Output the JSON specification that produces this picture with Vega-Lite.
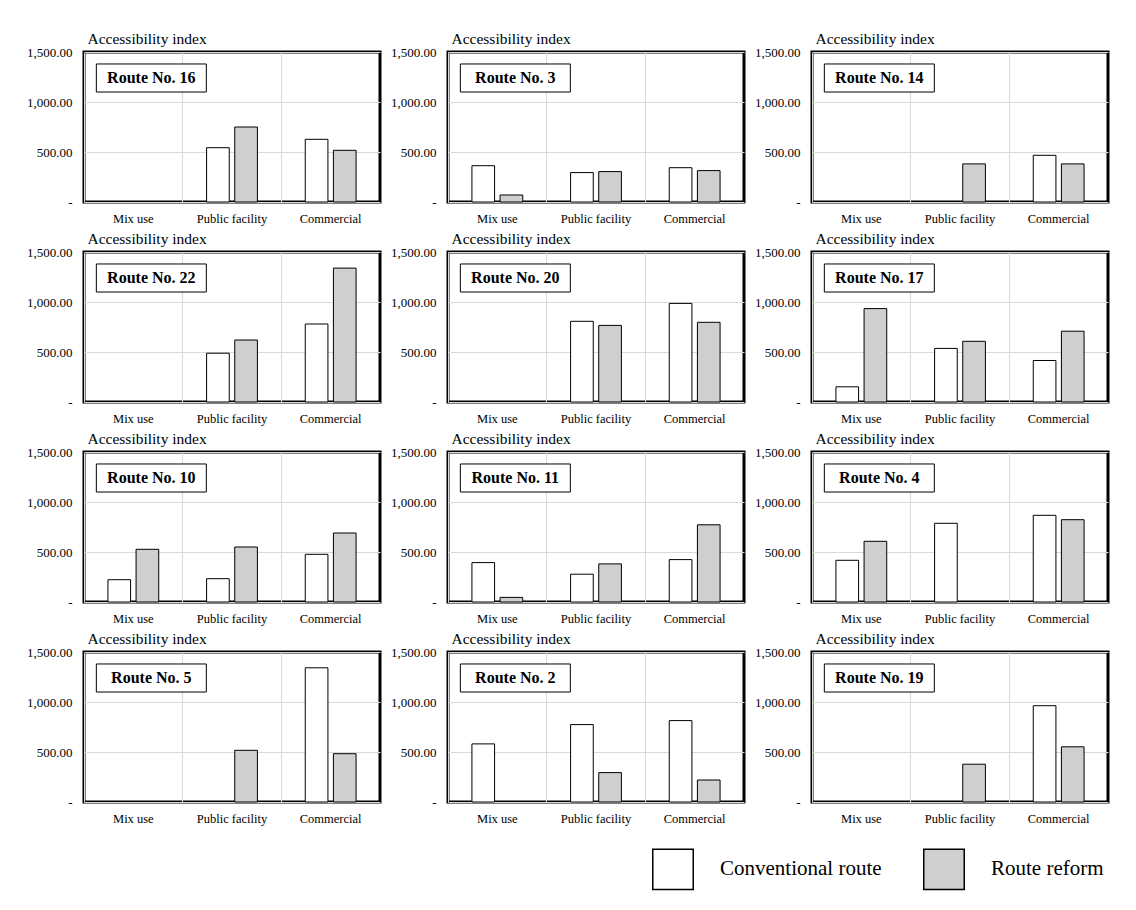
{
  "$schema": "https://vega.github.io/schema/vega-lite/v6.json",
  "background": "white",
  "padding": {"left": 25, "top": 29, "right": 5, "bottom": 5},
  "data": {
    "values": [
      {"route": "Route No. 16", "landuse": "Mix use", "type": "Conventional route", "value": 0},
      {"route": "Route No. 16", "landuse": "Mix use", "type": "Route reform", "value": 0},
      {"route": "Route No. 16", "landuse": "Public facility", "type": "Conventional route", "value": 543},
      {"route": "Route No. 16", "landuse": "Public facility", "type": "Route reform", "value": 750},
      {"route": "Route No. 16", "landuse": "Commercial", "type": "Conventional route", "value": 627},
      {"route": "Route No. 16", "landuse": "Commercial", "type": "Route reform", "value": 517},

      {"route": "Route No. 3", "landuse": "Mix use", "type": "Conventional route", "value": 363},
      {"route": "Route No. 3", "landuse": "Mix use", "type": "Route reform", "value": 70},
      {"route": "Route No. 3", "landuse": "Public facility", "type": "Conventional route", "value": 294},
      {"route": "Route No. 3", "landuse": "Public facility", "type": "Route reform", "value": 304},
      {"route": "Route No. 3", "landuse": "Commercial", "type": "Conventional route", "value": 343},
      {"route": "Route No. 3", "landuse": "Commercial", "type": "Route reform", "value": 314},

      {"route": "Route No. 14", "landuse": "Mix use", "type": "Conventional route", "value": 0},
      {"route": "Route No. 14", "landuse": "Mix use", "type": "Route reform", "value": 0},
      {"route": "Route No. 14", "landuse": "Public facility", "type": "Conventional route", "value": 0},
      {"route": "Route No. 14", "landuse": "Public facility", "type": "Route reform", "value": 381},
      {"route": "Route No. 14", "landuse": "Commercial", "type": "Conventional route", "value": 467},
      {"route": "Route No. 14", "landuse": "Commercial", "type": "Route reform", "value": 381},

      {"route": "Route No. 22", "landuse": "Mix use", "type": "Conventional route", "value": 0},
      {"route": "Route No. 22", "landuse": "Mix use", "type": "Route reform", "value": 0},
      {"route": "Route No. 22", "landuse": "Public facility", "type": "Conventional route", "value": 488},
      {"route": "Route No. 22", "landuse": "Public facility", "type": "Route reform", "value": 620},
      {"route": "Route No. 22", "landuse": "Commercial", "type": "Conventional route", "value": 780},
      {"route": "Route No. 22", "landuse": "Commercial", "type": "Route reform", "value": 1339},

      {"route": "Route No. 20", "landuse": "Mix use", "type": "Conventional route", "value": 0},
      {"route": "Route No. 20", "landuse": "Mix use", "type": "Route reform", "value": 0},
      {"route": "Route No. 20", "landuse": "Public facility", "type": "Conventional route", "value": 807},
      {"route": "Route No. 20", "landuse": "Public facility", "type": "Route reform", "value": 766},
      {"route": "Route No. 20", "landuse": "Commercial", "type": "Conventional route", "value": 986},
      {"route": "Route No. 20", "landuse": "Commercial", "type": "Route reform", "value": 797},

      {"route": "Route No. 17", "landuse": "Mix use", "type": "Conventional route", "value": 152},
      {"route": "Route No. 17", "landuse": "Mix use", "type": "Route reform", "value": 934},
      {"route": "Route No. 17", "landuse": "Public facility", "type": "Conventional route", "value": 536},
      {"route": "Route No. 17", "landuse": "Public facility", "type": "Route reform", "value": 607},
      {"route": "Route No. 17", "landuse": "Commercial", "type": "Conventional route", "value": 415},
      {"route": "Route No. 17", "landuse": "Commercial", "type": "Route reform", "value": 708},

      {"route": "Route No. 10", "landuse": "Mix use", "type": "Conventional route", "value": 223},
      {"route": "Route No. 10", "landuse": "Mix use", "type": "Route reform", "value": 527},
      {"route": "Route No. 10", "landuse": "Public facility", "type": "Conventional route", "value": 233},
      {"route": "Route No. 10", "landuse": "Public facility", "type": "Route reform", "value": 550},
      {"route": "Route No. 10", "landuse": "Commercial", "type": "Conventional route", "value": 477},
      {"route": "Route No. 10", "landuse": "Commercial", "type": "Route reform", "value": 690},

      {"route": "Route No. 11", "landuse": "Mix use", "type": "Conventional route", "value": 394},
      {"route": "Route No. 11", "landuse": "Mix use", "type": "Route reform", "value": 46},
      {"route": "Route No. 11", "landuse": "Public facility", "type": "Conventional route", "value": 278},
      {"route": "Route No. 11", "landuse": "Public facility", "type": "Route reform", "value": 381},
      {"route": "Route No. 11", "landuse": "Commercial", "type": "Conventional route", "value": 424},
      {"route": "Route No. 11", "landuse": "Commercial", "type": "Route reform", "value": 772},

      {"route": "Route No. 4", "landuse": "Mix use", "type": "Conventional route", "value": 417},
      {"route": "Route No. 4", "landuse": "Mix use", "type": "Route reform", "value": 607},
      {"route": "Route No. 4", "landuse": "Public facility", "type": "Conventional route", "value": 787},
      {"route": "Route No. 4", "landuse": "Public facility", "type": "Route reform", "value": 0},
      {"route": "Route No. 4", "landuse": "Commercial", "type": "Conventional route", "value": 867},
      {"route": "Route No. 4", "landuse": "Commercial", "type": "Route reform", "value": 823},

      {"route": "Route No. 5", "landuse": "Mix use", "type": "Conventional route", "value": 0},
      {"route": "Route No. 5", "landuse": "Mix use", "type": "Route reform", "value": 0},
      {"route": "Route No. 5", "landuse": "Public facility", "type": "Conventional route", "value": 0},
      {"route": "Route No. 5", "landuse": "Public facility", "type": "Route reform", "value": 517},
      {"route": "Route No. 5", "landuse": "Commercial", "type": "Conventional route", "value": 1342},
      {"route": "Route No. 5", "landuse": "Commercial", "type": "Route reform", "value": 483},

      {"route": "Route No. 2", "landuse": "Mix use", "type": "Conventional route", "value": 581},
      {"route": "Route No. 2", "landuse": "Mix use", "type": "Route reform", "value": 0},
      {"route": "Route No. 2", "landuse": "Public facility", "type": "Conventional route", "value": 774},
      {"route": "Route No. 2", "landuse": "Public facility", "type": "Route reform", "value": 294},
      {"route": "Route No. 2", "landuse": "Commercial", "type": "Conventional route", "value": 814},
      {"route": "Route No. 2", "landuse": "Commercial", "type": "Route reform", "value": 220},

      {"route": "Route No. 19", "landuse": "Mix use", "type": "Conventional route", "value": 0},
      {"route": "Route No. 19", "landuse": "Mix use", "type": "Route reform", "value": 0},
      {"route": "Route No. 19", "landuse": "Public facility", "type": "Conventional route", "value": 0},
      {"route": "Route No. 19", "landuse": "Public facility", "type": "Route reform", "value": 378},
      {"route": "Route No. 19", "landuse": "Commercial", "type": "Conventional route", "value": 963},
      {"route": "Route No. 19", "landuse": "Commercial", "type": "Route reform", "value": 552}
    ]
  },
  "facet": {
    "field": "route",
    "type": "nominal",
    "title": null,
    "sort": ["Route No. 16", "Route No. 3", "Route No. 14", "Route No. 22", "Route No. 20", "Route No. 17", "Route No. 10", "Route No. 11", "Route No. 4", "Route No. 5", "Route No. 2", "Route No. 19"],
    "header": {"labels": false, "labelExpr": "''", "labelFontSize": 0, "labelPadding": 0}
  },
  "columns": 3,
  "bounds": "flush",
  "spacing": {"row": 50, "column": 68},
  "spec": {
    "width": 296,
    "height": 150,
    "layer": [
      {
        "mark": {"type": "bar", "stroke": "black", "strokeWidth": 1},
        "encoding": {
          "x": {
            "field": "landuse",
            "type": "nominal",
            "sort": ["Mix use", "Public facility", "Commercial"],
            "scale": {"paddingInner": 0, "paddingOuter": 0},
            "axis": {
              "title": null,
              "ticks": false,
              "domain": false,
              "grid": true,
              "gridColor": "#d9d9d9",
              "bandPosition": 0,
              "labelAlign": "center",
              "labelAngle": 0,
              "labelPadding": 10,
              "labelFont": "Liberation Serif",
              "labelFontSize": 12.5,
              "labelColor": "black"
            }
          },
          "xOffset": {
            "field": "type",
            "sort": ["Conventional route", "Route reform"],
            "scale": {"paddingInner": 0.195, "paddingOuter": 0.85}
          },
          "y": {
            "field": "value",
            "type": "quantitative",
            "scale": {"domain": [0, 1500], "nice": false},
            "axis": {
              "values": [0, 500, 1000, 1500],
              "labelExpr": "datum.value === 0 ? '-' : format(datum.value, ',.2f')",
              "ticks": false,
              "domain": false,
              "labelPadding": 12,
              "labelFont": "Liberation Serif",
              "labelFontSize": 13,
              "labelColor": "black",
              "gridColor": "#d9d9d9",
              "title": "Accessibility index",
              "titleAngle": 0,
              "titleAlign": "left",
              "titleBaseline": "alphabetic",
              "titleX": 3,
              "titleY": -9,
              "titleFont": "Liberation Serif",
              "titleFontSize": 15.5,
              "titleFontWeight": "normal",
              "titleColor": "black"
            }
          },
          "strokeOpacity": {
            "condition": {"test": "datum.value > 0", "value": 1},
            "value": 0
          },
          "fill": {
            "field": "type",
            "type": "nominal",
            "scale": {"domain": ["Conventional route", "Route reform"], "range": ["white", "#cfcfcf"]},
            "legend": {
              "orient": "none",
              "legendX": 568,
              "legendY": 796,
              "direction": "horizontal",
              "title": null,
              "symbolType": "square",
              "symbolSize": 1640,
              "symbolStrokeColor": "black",
              "symbolStrokeWidth": 1.5,
              "symbolOpacity": 1,
              "labelFont": "Liberation Serif",
              "labelFontSize": 21,
              "labelColor": "black",
              "labelOffset": 26,
              "columnPadding": 38,
              "labelLimit": 300
            }
          }
        }
      },
      {
        "transform": [{"filter": "datum.landuse === 'Mix use' && datum.type === 'Conventional route'"}],
        "mark": {"type": "point", "shape": "M -1 -0.255 L 1 -0.255 L 1 0.255 L -1 0.255 Z", "size": 12100, "filled": true, "fill": "white", "stroke": "black", "strokeWidth": 1, "opacity": 1, "xOffset": 18},
        "encoding": {
          "x": {"datum": "Mix use", "type": "nominal"},
          "y": {"datum": 1240, "type": "quantitative"}
        }
      },
      {
        "transform": [{"filter": "datum.landuse === 'Mix use' && datum.type === 'Conventional route'"}],
        "mark": {"type": "text", "font": "Liberation Serif", "fontSize": 16, "fontWeight": "bold", "color": "black", "baseline": "middle", "align": "center", "xOffset": 18},
        "encoding": {
          "x": {"datum": "Mix use", "type": "nominal"},
          "y": {"datum": 1240, "type": "quantitative"},
          "text": {"field": "route"}
        }
      }
    ]
  },
  "resolve": {"axis": {"x": "independent", "y": "independent"}},
  "config": {
    "view": {"stroke": "black", "strokeWidth": 3},
    "headerFacet": {"labels": false, "labelExpr": "''", "labelFontSize": 0, "labelPadding": 0}
  }
}
